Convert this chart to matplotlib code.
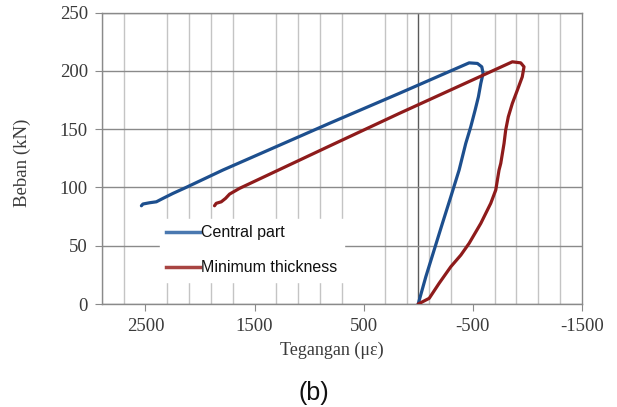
import matplotlib
matplotlib.use("Agg")
import matplotlib.pyplot as plt
from matplotlib.lines import Line2D
import numpy as np

# data (strain in micro-strain, load in kN)
central_strain = [0, -70, -146, -222, -299, -375, -436, -482, -522, -552, -574, -595,
                  -583, -543, -467, 174, 814, 1791, 2126, 2248, 2340, 2400, 2461, 2523, 2537]
central_load = [0, 23.4, 46.3, 69.2, 92.0, 114.9, 137.8, 152.1, 166.4, 177.8, 189.3, 197.9,
                203.5, 206.4, 206.9, 180.7, 155.0, 114.9, 100.1, 94.9, 90.6, 87.7, 86.9, 85.8, 84.3]

minimum_strain = [0, -101, -192, -299, -391, -467, -574, -665, -711, -741, -757, -787, -802,
                  -826, -863, -909, -954, -970, -940, -863, 174, 814, 1638, 1729, 1766, 1805,
                  1851, 1867]
minimum_load = [0, 4.9, 17.8, 32.0, 42.0, 52.1, 69.2, 86.4, 97.8, 114.9, 120.7, 137.8, 149.2,
                160.6, 172.1, 183.5, 194.9, 203.5, 206.9, 207.8, 163.5, 135.5, 99.2, 94.3, 90.6,
                87.7, 86.4, 84.3]

series_names = ["Central part", "Minimum thickness"]
x_ticks = [2500, 1500, 500, -500, -1500]
y_ticks = [0, 50, 100, 150, 200, 250]

blue = "#1d4f8e"
red = "#8e1b1b"
text_col = "#3a3a3a"

fig = plt.figure(figsize=(6.17, 4.07), dpi=100)
ax = fig.add_axes([0.165, 0.253, 0.778, 0.716])

# grid
ax.set_xticks(np.arange(-1500, 2901, 200), minor=True)
ax.grid(True, which="minor", axis="x", color="#c4c4c4", linewidth=1.0)
ax.grid(True, which="major", axis="y", color="#8a8a8a", linewidth=1.0)
ax.axvline(0, color="#5a5a5a", linewidth=1.0, zorder=1)

ax.plot(central_strain, central_load, color=blue, linewidth=2.3, solid_capstyle="round",
        solid_joinstyle="round", zorder=3)
ax.plot(minimum_strain, minimum_load, color=red, linewidth=2.3, solid_capstyle="round",
        solid_joinstyle="round", zorder=3)

ax.set_xlim(2900, -1500)
ax.set_ylim(0, 250)
ax.set_xticks(x_ticks)
ax.set_yticks(y_ticks)
ax.set_xticklabels([str(v) for v in x_ticks])
ax.tick_params(axis="both", which="major", direction="out", length=5, color="#8a8a8a",
               labelsize=13.5, labelcolor=text_col, pad=5)
ax.tick_params(axis="x", which="minor", length=0)
for lab in ax.get_xticklabels() + ax.get_yticklabels():
    lab.set_fontfamily("Liberation Serif")

for side in ["left", "right", "bottom", "top"]:
    ax.spines[side].set_color("#8a8a8a")
    ax.spines[side].set_linewidth(1.0)

fig.text(0.037, 0.60, "Beban (kN)", rotation=90, ha="center", va="center",
         fontsize=13.5, family="Liberation Serif", color=text_col)
fig.text(0.538, 0.138, "Tegangan (με)", ha="center", va="center",
         fontsize=13, family="Liberation Serif", color=text_col)
fig.text(0.508, 0.034, "(b)", ha="center", va="center",
         fontsize=18, family="Liberation Sans", color="#111111")

handles = [Line2D([], [], color="#4a78b0", linewidth=2.5),
           Line2D([], [], color="#a84442", linewidth=2.5)]
leg = ax.legend(handles, series_names, loc="upper left", bbox_to_anchor=(0.104, 0.32),
                frameon=True, fancybox=False, handlelength=2.1, handletextpad=0.1,
                labelspacing=1.25, borderpad=0.4,
                prop={"family": "Liberation Sans", "size": 11.5})
leg.get_frame().set_facecolor("white")
leg.get_frame().set_edgecolor("white")
leg.get_frame().set_alpha(1.0)
for t in leg.get_texts():
    t.set_color("#111111")

fig.savefig("out.png", dpi=100)
